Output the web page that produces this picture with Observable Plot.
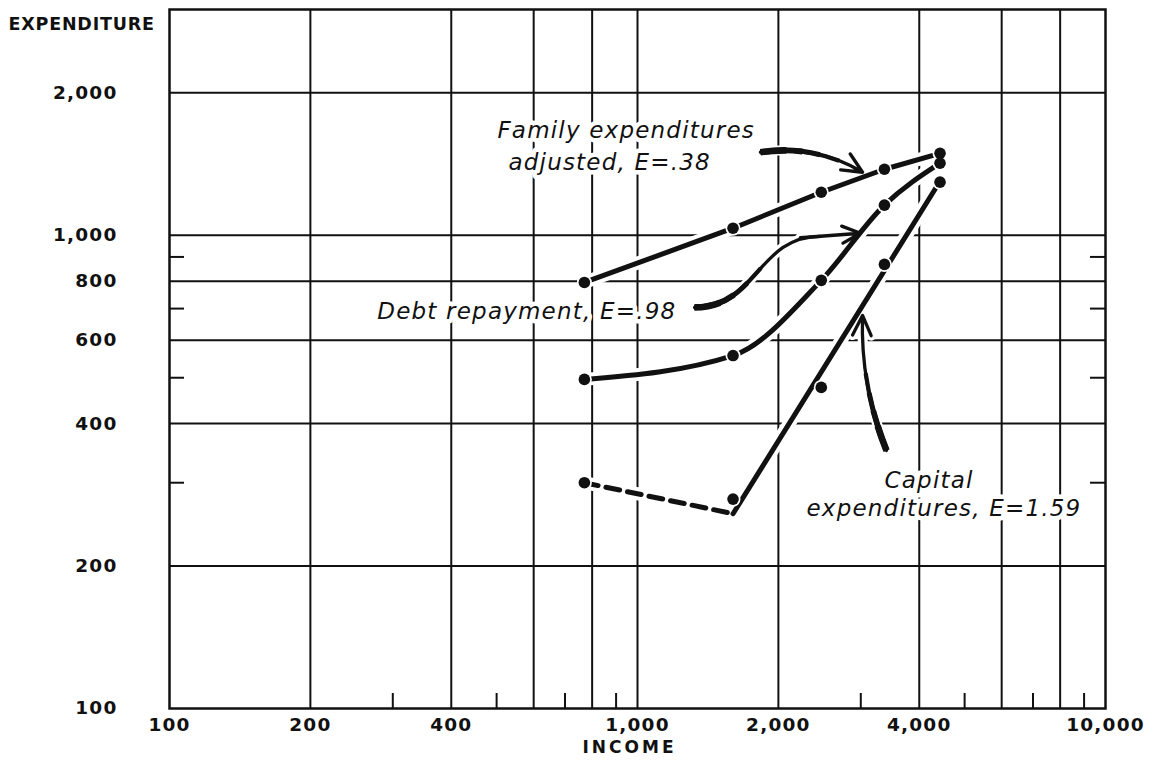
<!DOCTYPE html>
<html>
<head>
<meta charset="utf-8">
<script src="https://cdn.jsdelivr.net/npm/d3@7"></script>
<script src="https://cdn.jsdelivr.net/npm/@observablehq/plot@0.6"></script>
<style>
  body { margin: 0; background: #fff; }
  #chart svg { display: block; }
  #chart text { letter-spacing: 1.2px; }
  g[aria-label="x-axis tick label"] text, g[aria-label="y-axis tick label"] text { font-weight: bold; letter-spacing: 1px; }
</style>
</head>
<body>
<div id="chart"></div>
<script>
// ---- data (income in dollars, expenditure in dollars) ----
const incomes      = [770, 1600, 2470, 3370, 4430];
const familyExp    = [795, 1035, 1233, 1379, 1490];
const debtRepay    = [496, 557, 803, 1158, 1420];
const capitalExp   = [300, 277, 477, 868, 1295];

// fitted capital-expenditure lines (dashed lower segment, solid E=1.59 segment)
const capitalDashIncome = [770, 1600];
const capitalDashExp    = [300, 258];
const capitalFitIncome  = [1600, 4450];
const capitalFitExp     = [258, 1310];

// axes
const xDomain = [100, 10000];
const yDomain = [100, 3000];
const xTickValues = [100, 200, 400, 600, 1000, 2000, 4000, 6000, 10000];
const yTickValues = [100, 200, 400, 600, 800, 1000, 2000];
const xGrid  = [200, 400, 600, 800, 1000, 2000, 4000, 6000, 8000];
const xMinor = [300, 500, 700, 900, 3000, 5000, 7000, 9000];
const yGrid  = [200, 400, 600, 800, 1000, 2000];
const yMinor = [300, 500, 700, 900];

// annotations
const labelText   = ["Family expenditures", "adjusted, E=.38", "Debt repayment, E=.98", "Capital", "expenditures, E=1.59"];
const labelIncome = [502, 530, 278, 3372, 2297];
const labelExp    = [1660, 1425, 690, 303, 265];

const familyArrowIncome  = [1831, 3026];
const familyArrowExp     = [1498, 1359];
const capitalArrowIncome = [3404, 3026];
const capitalArrowExp    = [351, 677];
const debtArrowIncome    = [1324, 2460];   // S-shaped shaft
const debtArrowExp       = [704, 995];
const debtHeadIncome     = [2228, 2996];   // straight head segment
const debtHeadExp        = [988, 1010];

// ---- build tables ----
const rows = (xs, ys) => xs.map((x, i) => ({income: x, exp: ys[i]}));
const family  = rows(incomes, familyExp);
const debt    = rows(incomes, debtRepay);
const capital = rows(incomes, capitalExp);
const capDash = rows(capitalDashIncome, capitalDashExp);
const capFit  = rows(capitalFitIncome, capitalFitExp);
const allPoints = [...family, ...debt, ...capital];
const labels = labelText.map((t, i) => ({text: t, income: labelIncome[i], exp: labelExp[i]}));
const arrowRow = (xs, ys) => ({x1: xs[0], y1: ys[0], x2: xs[1], y2: ys[1]});
const familyArrow  = [arrowRow(familyArrowIncome, familyArrowExp)];
const capitalArrow = [arrowRow(capitalArrowIncome, capitalArrowExp)];
const debtHead     = [arrowRow(debtHeadIncome, debtHeadExp)];
const debtArrowPath = rows(debtArrowIncome, debtArrowExp);

const ink = "#111";
const xy = {x: "income", y: "exp"};
const haloW = 13;
const headPx = 22;               // arrowhead wing length in pixels
const arrowW = 3.3, haloArrowW = 10;
const arrowOpts = {x1: "x1", y1: "y1", x2: "x2", y2: "y2", headAngle: 50};
const inkArrow  = {...arrowOpts, stroke: ink, strokeWidth: arrowW, headLength: headPx * 1.5 / arrowW};
const haloArrow = {...arrowOpts, stroke: "white", strokeWidth: haloArrowW, headLength: headPx * 1.5 / haloArrowW};
// thick tapering tails: only the first part of each arrow path is stroked wider
const tapers = [[4.2, 80], [5, 60], [5.8, 42], [6.6, 26]];
const tailArrows = (data, bend) => tapers.map(([w, len]) =>
  Plot.arrow(data, {...arrowOpts, bend, stroke: ink, headLength: 0, strokeWidth: w, strokeDasharray: `${len},3000`, strokeLinecap: "butt"}));
const tailLines = (data) => tapers.map(([w, len]) =>
  Plot.line(data, {...xy, curve: "bump-x", stroke: ink, strokeWidth: w, strokeDasharray: `${len},3000`, strokeLinecap: "butt"}));

const chart = Plot.plot({
  width: 1162,
  height: 764,
  marginLeft: 169,
  marginRight: 57,
  marginTop: 9,
  marginBottom: 56,
  x: {type: "log", domain: xDomain},
  y: {type: "log", domain: yDomain},
  style: {fontFamily: "DejaVu Sans", background: "white", color: ink},
  marks: [
    // grid
    Plot.ruleX(xGrid, {x: d => d, stroke: ink, strokeWidth: 2}),
    Plot.ruleY(yGrid, {y: d => d, stroke: ink, strokeWidth: 2}),
    Plot.ruleX(xMinor, {x: d => d, y1: () => yDomain[0], y2: () => yDomain[0], insetTop: -15, stroke: ink, strokeWidth: 2}),
    Plot.ruleY(yMinor, {y: d => d, x1: () => xDomain[0], x2: () => xDomain[0], insetRight: -15, stroke: ink, strokeWidth: 2}),
    Plot.ruleY(yMinor, {y: d => d, x1: () => xDomain[1], x2: () => xDomain[1], insetLeft: -15, stroke: ink, strokeWidth: 2}),
    Plot.frame({stroke: ink, strokeWidth: 2.5}),

    // axes
    Plot.axisX({ticks: xTickValues, tickFormat: d3.format(","), tickSize: 0, tickPadding: 9, fontSize: 18.5, label: null}),
    Plot.axisY({ticks: yTickValues, tickFormat: d3.format(","), tickSize: 0, tickPadding: 52, fontSize: 18.5, label: null}),
    Plot.text(["EXPENDITURE"], {text: d => d, frameAnchor: "top-left", dx: -161, dy: 8, textAnchor: "start", fontSize: 17.5, fontWeight: "bold", fill: ink}),
    Plot.text(["INCOME"], {text: d => d, frameAnchor: "bottom", dx: -8, dy: 44, fontSize: 17, fontWeight: "bold", fill: ink}),

    // white halos (gaps in grid)
    Plot.line(family, {...xy, stroke: "white", strokeWidth: haloW}),
    Plot.line(debt, {...xy, stroke: "white", strokeWidth: haloW, curve: "monotone-x"}),
    Plot.line(capDash, {...xy, stroke: "white", strokeWidth: haloW}),
    Plot.line(capFit, {...xy, stroke: "white", strokeWidth: haloW}),
    Plot.arrow(familyArrow, {...haloArrow, bend: 20}),
    Plot.arrow(capitalArrow, {...haloArrow, bend: 12}),
    Plot.line(debtArrowPath, {...xy, curve: "bump-x", stroke: "white", strokeWidth: haloArrowW}),
    Plot.arrow(debtHead, haloArrow),

    // annotation text
    Plot.text(labels, {...xy, text: "text", textAnchor: "start", fontSize: 23, fontStyle: "italic",
      fill: ink, stroke: "white", strokeWidth: 9, paintOrder: "stroke"}),

    // data lines
    Plot.line(family, {...xy, stroke: ink, strokeWidth: 5}),
    Plot.line(debt, {...xy, stroke: ink, strokeWidth: 5, curve: "monotone-x"}),
    Plot.line(capDash, {...xy, stroke: ink, strokeWidth: 5, strokeDasharray: "14,8"}),
    Plot.line(capFit, {...xy, stroke: ink, strokeWidth: 5}),

    // arrows
    Plot.arrow(familyArrow, {...inkArrow, bend: 20}),
    ...tailArrows(familyArrow, 20),
    Plot.arrow(capitalArrow, {...inkArrow, bend: 12}),
    ...tailArrows(capitalArrow, 12),
    Plot.line(debtArrowPath, {...xy, curve: "bump-x", stroke: ink, strokeWidth: arrowW}),
    ...tailLines(debtArrowPath),
    Plot.arrow(debtHead, inkArrow),

    // points
    Plot.dot(allPoints, {...xy, r: 7.5, fill: "white"}),
    Plot.dot(allPoints, {...xy, r: 5.8, fill: ink})
  ]
});

chart.querySelectorAll("text").forEach(t => {
  if (t.textContent === "INCOME") t.style.letterSpacing = "3px";
  if (t.textContent === "EXPENDITURE") t.style.letterSpacing = "0.8px";
});
document.getElementById("chart").append(chart);
</script>
</body>
</html>
